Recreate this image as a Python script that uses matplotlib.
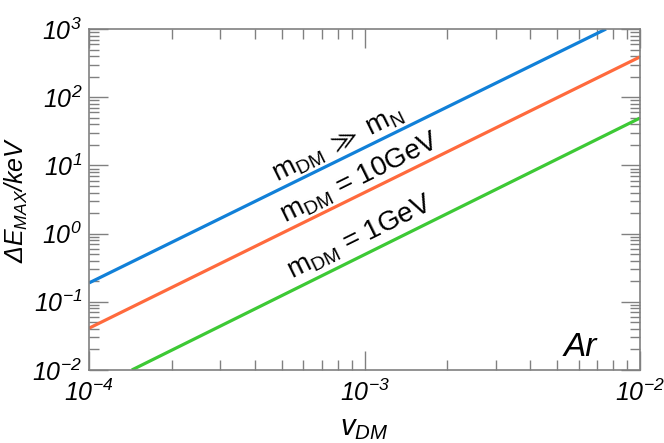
import math
import matplotlib
matplotlib.use("Agg")
import matplotlib.pyplot as plt
from matplotlib.ticker import LogLocator, FuncFormatter, NullFormatter

plt.rcParams['font.family'] = ['Liberation Sans', 'DejaVu Sans']
plt.rcParams['mathtext.fontset'] = 'custom'
plt.rcParams['mathtext.rm'] = 'Liberation Sans:italic'
plt.rcParams['mathtext.it'] = 'Liberation Sans:italic'
plt.rcParams['mathtext.sf'] = 'Liberation Sans'
plt.rcParams['mathtext.fallback'] = 'stixsans'

# values (Ar target)
v_heavy = [1e-4, 7.53e-3]
e_heavy = [0.189, 1000]
v_10gev = [1e-4, 1e-2]
e_10gev = [0.041, 390]
v_1gev = [1.43e-4, 1e-2]
e_1gev = [0.01, 49.5]

labels = [r"$\mathregular{m_{DM}}$ $\gg$ $\mathregular{m_N}$",
          r"$\mathregular{m_{DM}}$ = 10GeV",
          r"$\mathregular{m_{DM}}$ = 1GeV"]
label_pos = [(8.0e-4, 20), (9.6e-4, 6.6), (9.6e-4, 0.87)]

colors = ["#1180d8", "#ff6a3d", "#3dc935"]
gray = "#808080"

fig = plt.figure(figsize=(6.64, 4.43), dpi=100)
ax = fig.add_axes([89 / 664, 1 - 370 / 443, 551 / 664, 341 / 443])

ax.plot(v_heavy, e_heavy, color=colors[0], lw=2.3, solid_capstyle="butt")
ax.plot(v_10gev, e_10gev, color=colors[1], lw=2.3, solid_capstyle="butt")
ax.plot(v_1gev, e_1gev, color=colors[2], lw=2.3, solid_capstyle="butt")

ax.set_xscale("log")
ax.set_yscale("log")
ax.set_xlim(1e-4, 1e-2)
ax.set_ylim(1e-2, 1e3)

ax.xaxis.set_major_locator(LogLocator(base=10, numticks=10))
ax.yaxis.set_major_locator(LogLocator(base=10, numticks=10))
ax.xaxis.set_minor_locator(LogLocator(base=10, subs=range(2, 10), numticks=20))
ax.yaxis.set_minor_locator(LogLocator(base=10, subs=range(2, 10), numticks=20))
ax.xaxis.set_minor_formatter(NullFormatter())
ax.yaxis.set_minor_formatter(NullFormatter())


def fmt(val, pos):
    e = int(round(math.log10(val)))
    return r"$10^{%d}$" % e


ax.xaxis.set_major_formatter(FuncFormatter(fmt))
ax.yaxis.set_major_formatter(FuncFormatter(fmt))

ax.tick_params(which="both", direction="in", top=True, right=True,
               color=gray, labelsize=18)
ax.tick_params(which="major", length=14, width=1)
ax.tick_params(which="minor", length=7, width=1)
ax.tick_params(axis="x", pad=7)
ax.tick_params(axis="y", pad=5)
for s in ax.spines.values():
    s.set_color(gray)
    s.set_linewidth(1.2)

ax.set_xlabel(r"$v_{DM}$", fontsize=21, labelpad=6)
ax.set_ylabel(r"$\Delta E_{MAX}/keV$", fontsize=18, labelpad=2)

for (x, y), t in zip(label_pos, labels):
    ax.text(x, y, t, fontsize=20, rotation=26.3, ha="center", va="center",
            rotation_mode="anchor")

ax.text(580 / 664, 1 - 348 / 443, "Ar", transform=fig.transFigure,
        fontsize=24, style="italic", ha="center", va="center")

fig.savefig("out.png", dpi=100)
